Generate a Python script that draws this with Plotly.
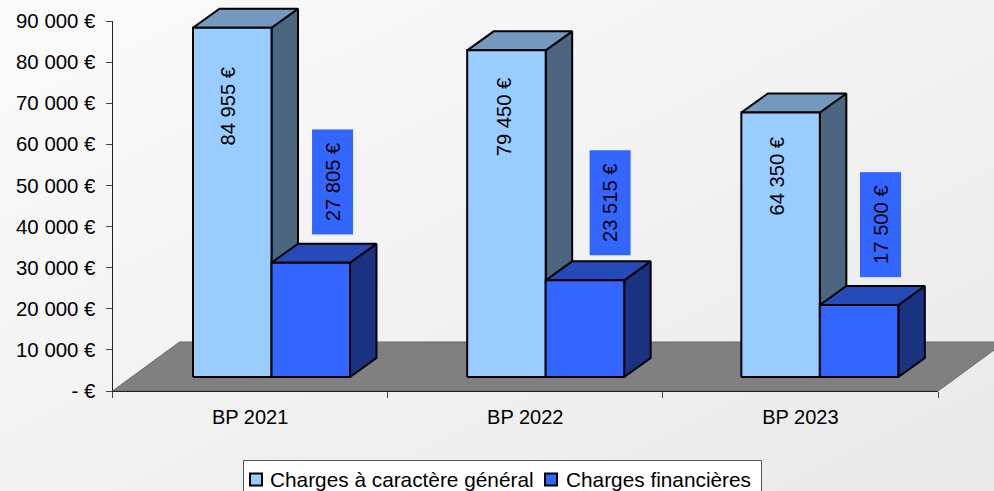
import base64
import plotly.graph_objects as go

categories = ["BP 2021", "BP 2022", "BP 2023"]
charges_generales = [84955, 79450, 64350]
charges_financieres = [27805, 23515, 17500]
y_ticks = [0, 10000, 20000, 30000, 40000, 50000, 60000, 70000, 80000, 90000]
y_labels = ["- €", "10 000 €", "20 000 €", "30 000 €", "40 000 €", "50 000 €",
            "60 000 €", "70 000 €", "80 000 €", "90 000 €"]
series_names = ["Charges à caractère général", "Charges financières"]

W, H = 994, 491
L, R, T, B = 112.5, 938.0, 21.0, 391.0
PXX = (R - L) / 3.0           # px per category
PXY = (B - T) / 90000.0       # px per euro
FONT = "Liberation Sans, Arial, sans-serif"
FS = 20.2


def euro(v):
    return f"{v:,}".replace(",", " ") + " €"


def px(p):
    return p / W


def py(p):
    return 1 - p / H


# 3-D projection constants
STEP = 274 / 275
START = (193 - L) / PXX - 0.5
BW = 78.5 / PXX
DX = 26.5 / PXX
DY = 19 / PXY
BASE = 14 / PXY
FX = 67 / PXX
FY = 49 / PXY


def faces(values, offset):
    front_x, front_y, top_x, top_y, side_x, side_y = [], [], [], [], [], []
    for i, v in enumerate(values):
        a = START + i * STEP + offset * BW
        b = a + BW
        y0 = BASE
        y1 = BASE + v
        front_x += [a, b, b, a, a, None]
        front_y += [y0, y0, y1, y1, y0, None]
        top_x += [a, a + DX, b + DX, b, a, None]
        top_y += [y1, y1 + DY, y1 + DY, y1, y1, None]
        side_x += [b, b + DX, b + DX, b, b, None]
        side_y += [y0, y0 + DY, y1 + DY, y1, y0, None]
    return front_x, front_y, top_x, top_y, side_x, side_y


def poly(x, y, color, width=2, line="black", name=None):
    return go.Scatter(x=x, y=y, mode="lines", fill="toself", fillcolor=color,
                      line=dict(color=line, width=width), cliponaxis=False,
                      showlegend=False, hoverinfo="skip", name=name)


fig = go.Figure()
fx0, fx1 = -0.5, 2.5
fig.add_trace(poly([fx0, fx0 + FX, fx1 + FX, fx1, fx0], [0, FY, FY, 0, 0], "#808080",
                   width=1, line="#6a6a6a", name="floor"))

for values, off, cols, name in (
    (charges_generales, 0, ("#99CCFF", "#7399BF", "#4D6680"), series_names[0]),
    (charges_financieres, 1, ("#3366FF", "#244BB8", "#1A3380"), series_names[1]),
):
    fr_x, fr_y, t_x, t_y, s_x, s_y = faces(values, off)
    fig.add_trace(poly(s_x, s_y, cols[2], name=name + " side"))
    fig.add_trace(poly(t_x, t_y, cols[1], name=name + " top"))
    fig.add_trace(poly(fr_x, fr_y, cols[0], name=name))

# invisible trace keeps the visible axes alive on their own subplot
fig.add_trace(go.Scatter(x=[0, 1, 2], y=[None, None, None], xaxis="x2", yaxis="y2", mode="markers",
                         showlegend=False, hoverinfo="skip", marker=dict(opacity=0)))

annotations = []
gen_dy = [78, 66, 64]
gen_dx = [-4.5, -2.5, -3.5]
fin_dy = [81, 78, 80]
fin_dx = [21.5, 25.5, 21.5]
for i in range(3):
    xc0 = START + i * STEP + BW * 0.5
    annotations.append(dict(
        x=xc0, y=BASE + charges_generales[i], xref="x", yref="y", text=euro(charges_generales[i]),
        textangle=-90, showarrow=False, xshift=gen_dx[i], yshift=-gen_dy[i],
        font=dict(family=FONT, size=FS, color="black")))
    xc1 = xc0 + BW
    annotations.append(dict(
        x=xc1, y=BASE + charges_financieres[i], xref="x", yref="y", text=euro(charges_financieres[i]),
        textangle=-90, showarrow=False, xshift=fin_dx[i], yshift=fin_dy[i],
        width=102, height=38, bgcolor="#3366FF", valign="middle", align="center",
        font=dict(family=FONT, size=FS, color="black")))

# legend box
shapes = [
    dict(type="rect", xref="paper", yref="paper", x0=px(243.5), x1=px(761.5), y0=py(460.5), y1=py(500),
         fillcolor="white", line=dict(color="#555555", width=1)),
    dict(type="rect", xref="paper", yref="paper", x0=px(250), x1=px(262), y0=py(473.5), y1=py(485.5),
         fillcolor="#99CCFF", line=dict(color="black", width=2)),
    dict(type="rect", xref="paper", yref="paper", x0=px(545), x1=px(557), y0=py(473.5), y1=py(485.5),
         fillcolor="#3366FF", line=dict(color="black", width=2)),
]
LEG = 20.8
annotations.append(dict(x=px(268), y=py(479), xref="paper", yref="paper", xanchor="left", yanchor="middle",
                        text=series_names[0], showarrow=False, font=dict(family=FONT, size=LEG, color="black")))
annotations.append(dict(x=px(563.5), y=py(479), xref="paper", yref="paper", xanchor="left", yanchor="middle",
                        text=series_names[1], showarrow=False, font=dict(family=FONT, size=LEG, color="black")))

svg = ('<svg xmlns="http://www.w3.org/2000/svg" width="994" height="491" preserveAspectRatio="none">'
       '<defs><linearGradient id="g" x1="0" y1="0" x2="1" y2="1">'
       '<stop offset="0" stop-color="#fcfbfc"/><stop offset="1" stop-color="#e9e9e9"/>'
       '</linearGradient></defs><rect width="994" height="491" fill="url(#g)"/></svg>')
bg = "data:image/svg+xml;base64," + base64.b64encode(svg.encode()).decode()

fig.update_layout(
    width=W, height=H, autosize=False,
    margin=dict(l=0, r=0, t=0, b=0, pad=0, autoexpand=False),
    paper_bgcolor="#f3f3f3", plot_bgcolor="rgba(0,0,0,0)",
    showlegend=False, annotations=annotations, shapes=shapes,
    images=[dict(source=bg, xref="paper", yref="paper", x=0, y=1,
                 sizex=1, sizey=1, xanchor="left", yanchor="top",
                 sizing="stretch", layer="below")],
    font=dict(family=FONT, size=FS, color="black"),
    # full-page axes on which the 3-D faces are drawn
    xaxis=dict(domain=[0, 1], range=[-0.5 - L / PXX, -0.5 + (W - L) / PXX], visible=False, fixedrange=True,
               automargin=False),
    yaxis=dict(domain=[0, 1], range=[-(H - B) / PXY, B / PXY], visible=False, fixedrange=True,
               automargin=False),
    # visible axes, same scale as the page axes
    xaxis2=dict(domain=[L / W, R / W], anchor="y2", range=[-0.5, 2.5], tickvals=[0, 1, 2], ticktext=categories,
                ticks="", showgrid=False, zeroline=False, showline=True, linecolor="#222222", linewidth=1,
                automargin=False, ticklabelstandoff=8, tickfont=dict(family=FONT, size=20, color="black"),
                minor=dict(tickvals=[-0.5, 0.5, 1.5, 2.5], ticks="outside", ticklen=6,
                           tickcolor="#444444", tickwidth=1, showgrid=False)),
    yaxis2=dict(domain=[(H - B) / H, (H - T) / H], anchor="x2", range=[0, 90000], tickvals=y_ticks,
                ticktext=y_labels, ticks="outside", ticklen=6, tickcolor="#444444", showgrid=False,
                automargin=False, zeroline=False, showline=True, linecolor="#222222", linewidth=1,
                ticklabelstandoff=6, tickfont=dict(family=FONT, size=20.4, color="black")),
)
fig.write_html("out.html", config={"displayModeBar": False},
               post_script="document.body.style.margin='0';document.body.style.overflow='hidden';")
